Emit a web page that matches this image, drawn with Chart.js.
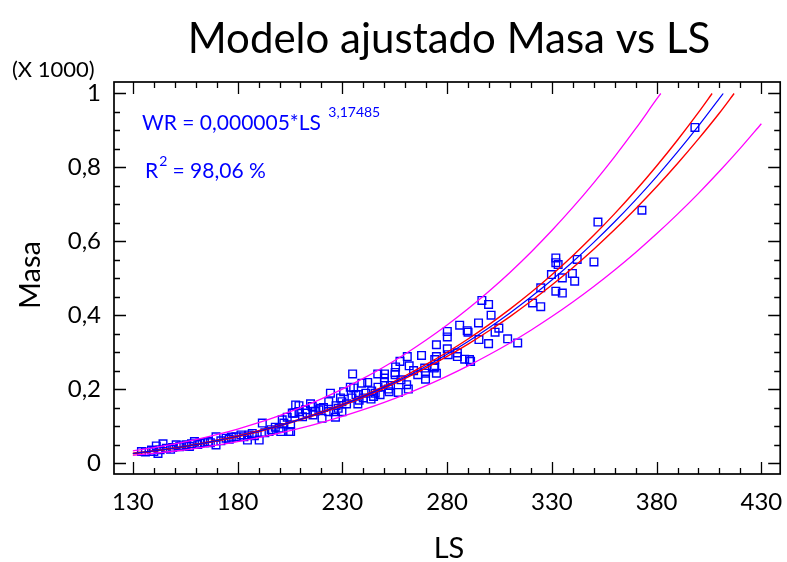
<!DOCTYPE html>
<html lang="es">
<head>
<meta charset="UTF-8">
<title>Modelo ajustado Masa vs LS</title>
<script src="https://cdn.jsdelivr.net/npm/chart.js"></script>
<style>
body { margin: 0; padding: 0; background: #fff; }
canvas { display: block; }
</style>
</head>
<body>
<canvas id="chart" width="787" height="562"></canvas>
<script>
// observaciones (Masa en miles)
const obsLS = [398.3,373.0,352.0,331.9,331.9,333.0,342.1,350.1,329.8,339.8,335.0,340.9,324.7,331.9,335.0,320.8,324.7,
  296.6,299.8,301.0,295.0,286.0,289.6,290.0,304.7,302.9,280.1,280.1,295.2,308.9,299.8,313.7,274.9,267.8,280.1,274.9,
  274.1,280.5,284.9,284.9,288.4,291.2,290.7,273.8,274.9,269.7,269.7,266.0,234.9,246.9,250.1,250.1,255.4,255.2,255.2,
  261.0,257.5,261.9,274.1,269.3,242.1,239.3,250.1,252.0,252.3,260.7,261.5,256.7,230.6,233.8,235.4,236.5,237.7,241.2,
  244.9,245.7,248.0,243.7,224.3,229.1,229.8,234.6,237.4,223.5,214.8,215.6,209.3,219.6,223.5,225.9,226.7,229.8,209.3,
  206.1,203.7,201.3,205.3,205.3,212.4,213.2,218.8,220.3,134.1,138.9,141.2,142.0,144.4,150.7,152.3,155.4,159.4,164.2,
  169.7,169.7,174.5,179.2,181.6,185.5,184.7,190.3,191.8,195.0,199.8,200.6,202.1,204.5,206.9,207.7,
  136,140,143,146,148,149,153,157,158,161,162,166,167,172,176,177,183,187,188,193,196,198,211,216,217,221,227,228,
  232,238,240,244,247,253,258,264];
const obsMasa = [0.908,0.684,0.652,0.555,0.542,0.537,0.551,0.544,0.510,0.513,0.501,0.492,0.474,0.465,0.460,0.433,0.423,
  0.440,0.429,0.400,0.379,0.373,0.358,0.354,0.365,0.354,0.356,0.341,0.334,0.336,0.323,0.325,0.320,0.291,0.309,0.288,
  0.280,0.293,0.298,0.288,0.281,0.275,0.280,0.257,0.243,0.243,0.227,0.239,0.241,0.241,0.241,0.230,0.260,0.245,0.239,
  0.288,0.275,0.263,0.260,0.257,0.218,0.216,0.218,0.200,0.193,0.212,0.200,0.191,0.193,0.205,0.203,0.185,0.185,0.189,
  0.180,0.189,0.185,0.173,0.189,0.176,0.166,0.176,0.160,0.166,0.160,0.153,0.155,0.148,0.139,0.139,0.124,0.139,0.139,
  0.135,0.124,0.117,0.103,0.085,0.144,0.135,0.144,0.121,0.031,0.035,0.046,0.026,0.052,0.049,0.044,0.049,0.058,0.055,
  0.071,0.049,0.067,0.071,0.076,0.076,0.062,0.062,0.108,0.085,0.094,0.085,0.108,0.085,0.135,0.157,
  0.030,0.031,0.036,0.040,0.037,0.042,0.046,0.045,0.052,0.050,0.054,0.058,0.055,0.060,0.064,0.070,0.071,0.080,0.074,
  0.082,0.090,0.097,0.125,0.130,0.140,0.150,0.155,0.148,0.160,0.170,0.176,0.195,0.205,0.210,0.225,0.250];

// modelo ajustado
const fitLS = [130,140,150,160,170,180,190,200,210,220,230,240,250,260,270,280,290,300,310,320,330,340,350,360,370,380,390,400,410,411.8];
const fitMasa = [0.0257,0.0326,0.0405,0.0498,0.0603,0.0723,0.0859,0.1011,0.1180,0.1367,0.1575,0.1802,0.2052,0.2324,0.2619,
  0.2940,0.3287,0.3660,0.4062,0.4492,0.4953,0.5446,0.5971,0.6529,0.7123,0.7752,0.8418,0.9123,0.9867,1.0];

// limites de confianza
const confUpLS = [130,140,150,160,170,180,190,200,210,220,230,240,250,260,270,280,290,300,310,320,330,340,350,360,370,380,390,400,406.5];
const confUp = [0.0267,0.0336,0.0416,0.0509,0.0615,0.0736,0.0872,0.1024,0.1194,0.1384,0.1594,0.1826,0.2081,0.2361,0.2666,
  0.2997,0.3356,0.3745,0.4163,0.4612,0.5094,0.5610,0.6161,0.6749,0.7374,0.8038,0.8742,0.9489,1.0];
const confLowLS = [130,140,150,160,170,180,190,200,210,220,230,240,250,260,270,280,290,300,310,320,330,340,350,360,370,380,390,400,410,417];
const confLow = [0.0249,0.0316,0.0395,0.0486,0.0591,0.0711,0.0846,0.0997,0.1165,0.1351,0.1555,0.1778,0.2022,0.2287,0.2574,
  0.2884,0.3218,0.3578,0.3963,0.4376,0.4816,0.5286,0.5786,0.6317,0.6880,0.7476,0.8106,0.8772,0.9472,1.0];

// limites de prediccion
const predUpLS = [130,140,150,160,170,180,190,200,210,220,230,240,250,260,270,280,290,300,310,320,330,340,350,360,370,380,382];
const predUp = [0.0327,0.0413,0.0515,0.0632,0.0766,0.0918,0.1090,0.1284,0.1498,0.1736,0.2000,0.2289,0.2606,0.2951,0.3327,
  0.3734,0.4174,0.4649,0.5158,0.5705,0.6291,0.6916,0.7583,0.8292,0.9046,0.9845,1.0];
const predLowLS = [130,140,150,160,170,180,190,200,210,220,230,240,250,260,270,280,290,300,310,320,330,340,350,360,370,380,390,400,410,420,430];
const predLow = [0.0206,0.0260,0.0324,0.0398,0.0483,0.0578,0.0687,0.0809,0.0944,0.1094,0.1260,0.1442,0.1641,0.1859,0.2095,
  0.2352,0.2629,0.2928,0.3249,0.3594,0.3963,0.4357,0.4777,0.5224,0.5698,0.6202,0.6735,0.7298,0.7894,0.8521,0.9182];

// ejes
const xTicks = [130,180,230,280,330,380,430];
const yTicks = [0,0.2,0.4,0.6,0.8,1];

const FONT = "Lato, 'Open Sans', sans-serif";

function pts(xs, ys) { return xs.map((x, i) => ({ x: x, y: ys[i] })); }

function curve(xs, ys, color, w) {
  return {
    type: 'line', data: pts(xs, ys), borderColor: color, borderWidth: w,
    pointRadius: 0, fill: false, showLine: true, cubicInterpolationMode: 'monotone'
  };
}

// marco, marcas, textos
const decor = {
  id: 'decor',
  afterDraw(chart) {
    const ctx = chart.ctx, a = chart.chartArea;
    const xs = chart.scales.x, ys = chart.scales.y;
    ctx.save();
    ctx.strokeStyle = '#000';
    ctx.lineWidth = 1.7;
    ctx.strokeRect(a.left, a.top, a.right - a.left, a.bottom - a.top);

    ctx.lineWidth = 1.3;
    ctx.beginPath();
    for (let v = 130; v <= 430; v += 10) {
      const p = Math.round(xs.getPixelForValue(v)) + 0.5;
      const len = (v - 130) % 50 === 0 ? 12 : 6;
      ctx.moveTo(p, a.bottom); ctx.lineTo(p, a.bottom - len);
      ctx.moveTo(p, a.top); ctx.lineTo(p, a.top + len);
    }
    for (let i = 0; i <= 20; i++) {
      const v = i * 0.05;
      const p = Math.round(ys.getPixelForValue(v)) + 0.5;
      const len = i % 4 === 0 ? 12 : 6;
      ctx.moveTo(a.left, p); ctx.lineTo(a.left + len, p);
      ctx.moveTo(a.right, p); ctx.lineTo(a.right - len, p);
    }
    ctx.stroke();

    ctx.fillStyle = '#000';
    ctx.font = '24px ' + FONT;
    ctx.textAlign = 'center';
    ctx.textBaseline = 'middle';
    xTicks.forEach(v => ctx.fillText(String(v), xs.getPixelForValue(v), 502));
    ctx.textAlign = 'right';
    yTicks.forEach(v => ctx.fillText(String(v).replace('.', ','), 101, ys.getPixelForValue(v)));

    ctx.textAlign = 'left';
    ctx.textBaseline = 'alphabetic';
    ctx.font = '22px ' + FONT;
    ctx.fillText('(X 1000)', 12, 77);

    ctx.textAlign = 'center';
    ctx.font = '42px ' + FONT;
    ctx.fillText('Modelo ajustado Masa vs LS', 449, 53);
    ctx.font = '29px ' + FONT;
    ctx.fillText('LS', 449, 558);
    ctx.save();
    ctx.translate(40, 275);
    ctx.rotate(-Math.PI / 2);
    ctx.fillText('Masa', 0, 0);
    ctx.restore();

    // ecuacion del modelo
    ctx.fillStyle = '#0000ff';
    ctx.textAlign = 'left';
    ctx.font = '21px ' + FONT;
    const eq = 'WR = 0,000005*LS ';
    ctx.fillText(eq, 142, 130);
    let w = ctx.measureText(eq).width;
    ctx.font = '14px ' + FONT;
    ctx.fillText('3,17485', 142 + w + 2, 117);

    ctx.font = '21px ' + FONT;
    ctx.fillText('R', 145, 178);
    w = ctx.measureText('R').width;
    ctx.font = '14px ' + FONT;
    ctx.fillText('2', 145 + w + 1, 166);
    ctx.font = '21px ' + FONT;
    ctx.fillText(' = 98,06 %', 145 + w + 9, 178);
    ctx.restore();
  }
};

new Chart(document.getElementById('chart'), {
  type: 'scatter',
  data: {
    datasets: [
      curve(fitLS, fitMasa, '#0000ff', 1.2),
      curve(confUpLS, confUp, '#ff0000', 1.4),
      curve(confLowLS, confLow, '#ff0000', 1.4),
      curve(predUpLS, predUp, '#ff00ff', 1.3),
      curve(predLowLS, predLow, '#ff00ff', 1.3),
      {
        data: pts(obsLS, obsMasa),
        pointStyle: 'rect', pointRadius: 5.4, borderWidth: 1.4,
        borderColor: '#0000ff', backgroundColor: 'rgba(0,0,0,0)'
      }
    ]
  },
  options: {
    responsive: false,
    animation: false,
    layout: { padding: { left: 114, top: 82, right: 3, bottom: 88 } },
    plugins: { legend: { display: false }, tooltip: { enabled: false }, title: { display: false } },
    scales: {
      x: {
        type: 'linear', min: 121, max: 439, display: false,
        afterBuildTicks: s => { s.ticks = xTicks.map(v => ({ value: v })); }
      },
      y: {
        type: 'linear', min: -0.0298, max: 1.0311, display: false,
        afterBuildTicks: s => { s.ticks = yTicks.map(v => ({ value: v })); }
      }
    }
  },
  plugins: [decor]
});
</script>
</body>
</html>
